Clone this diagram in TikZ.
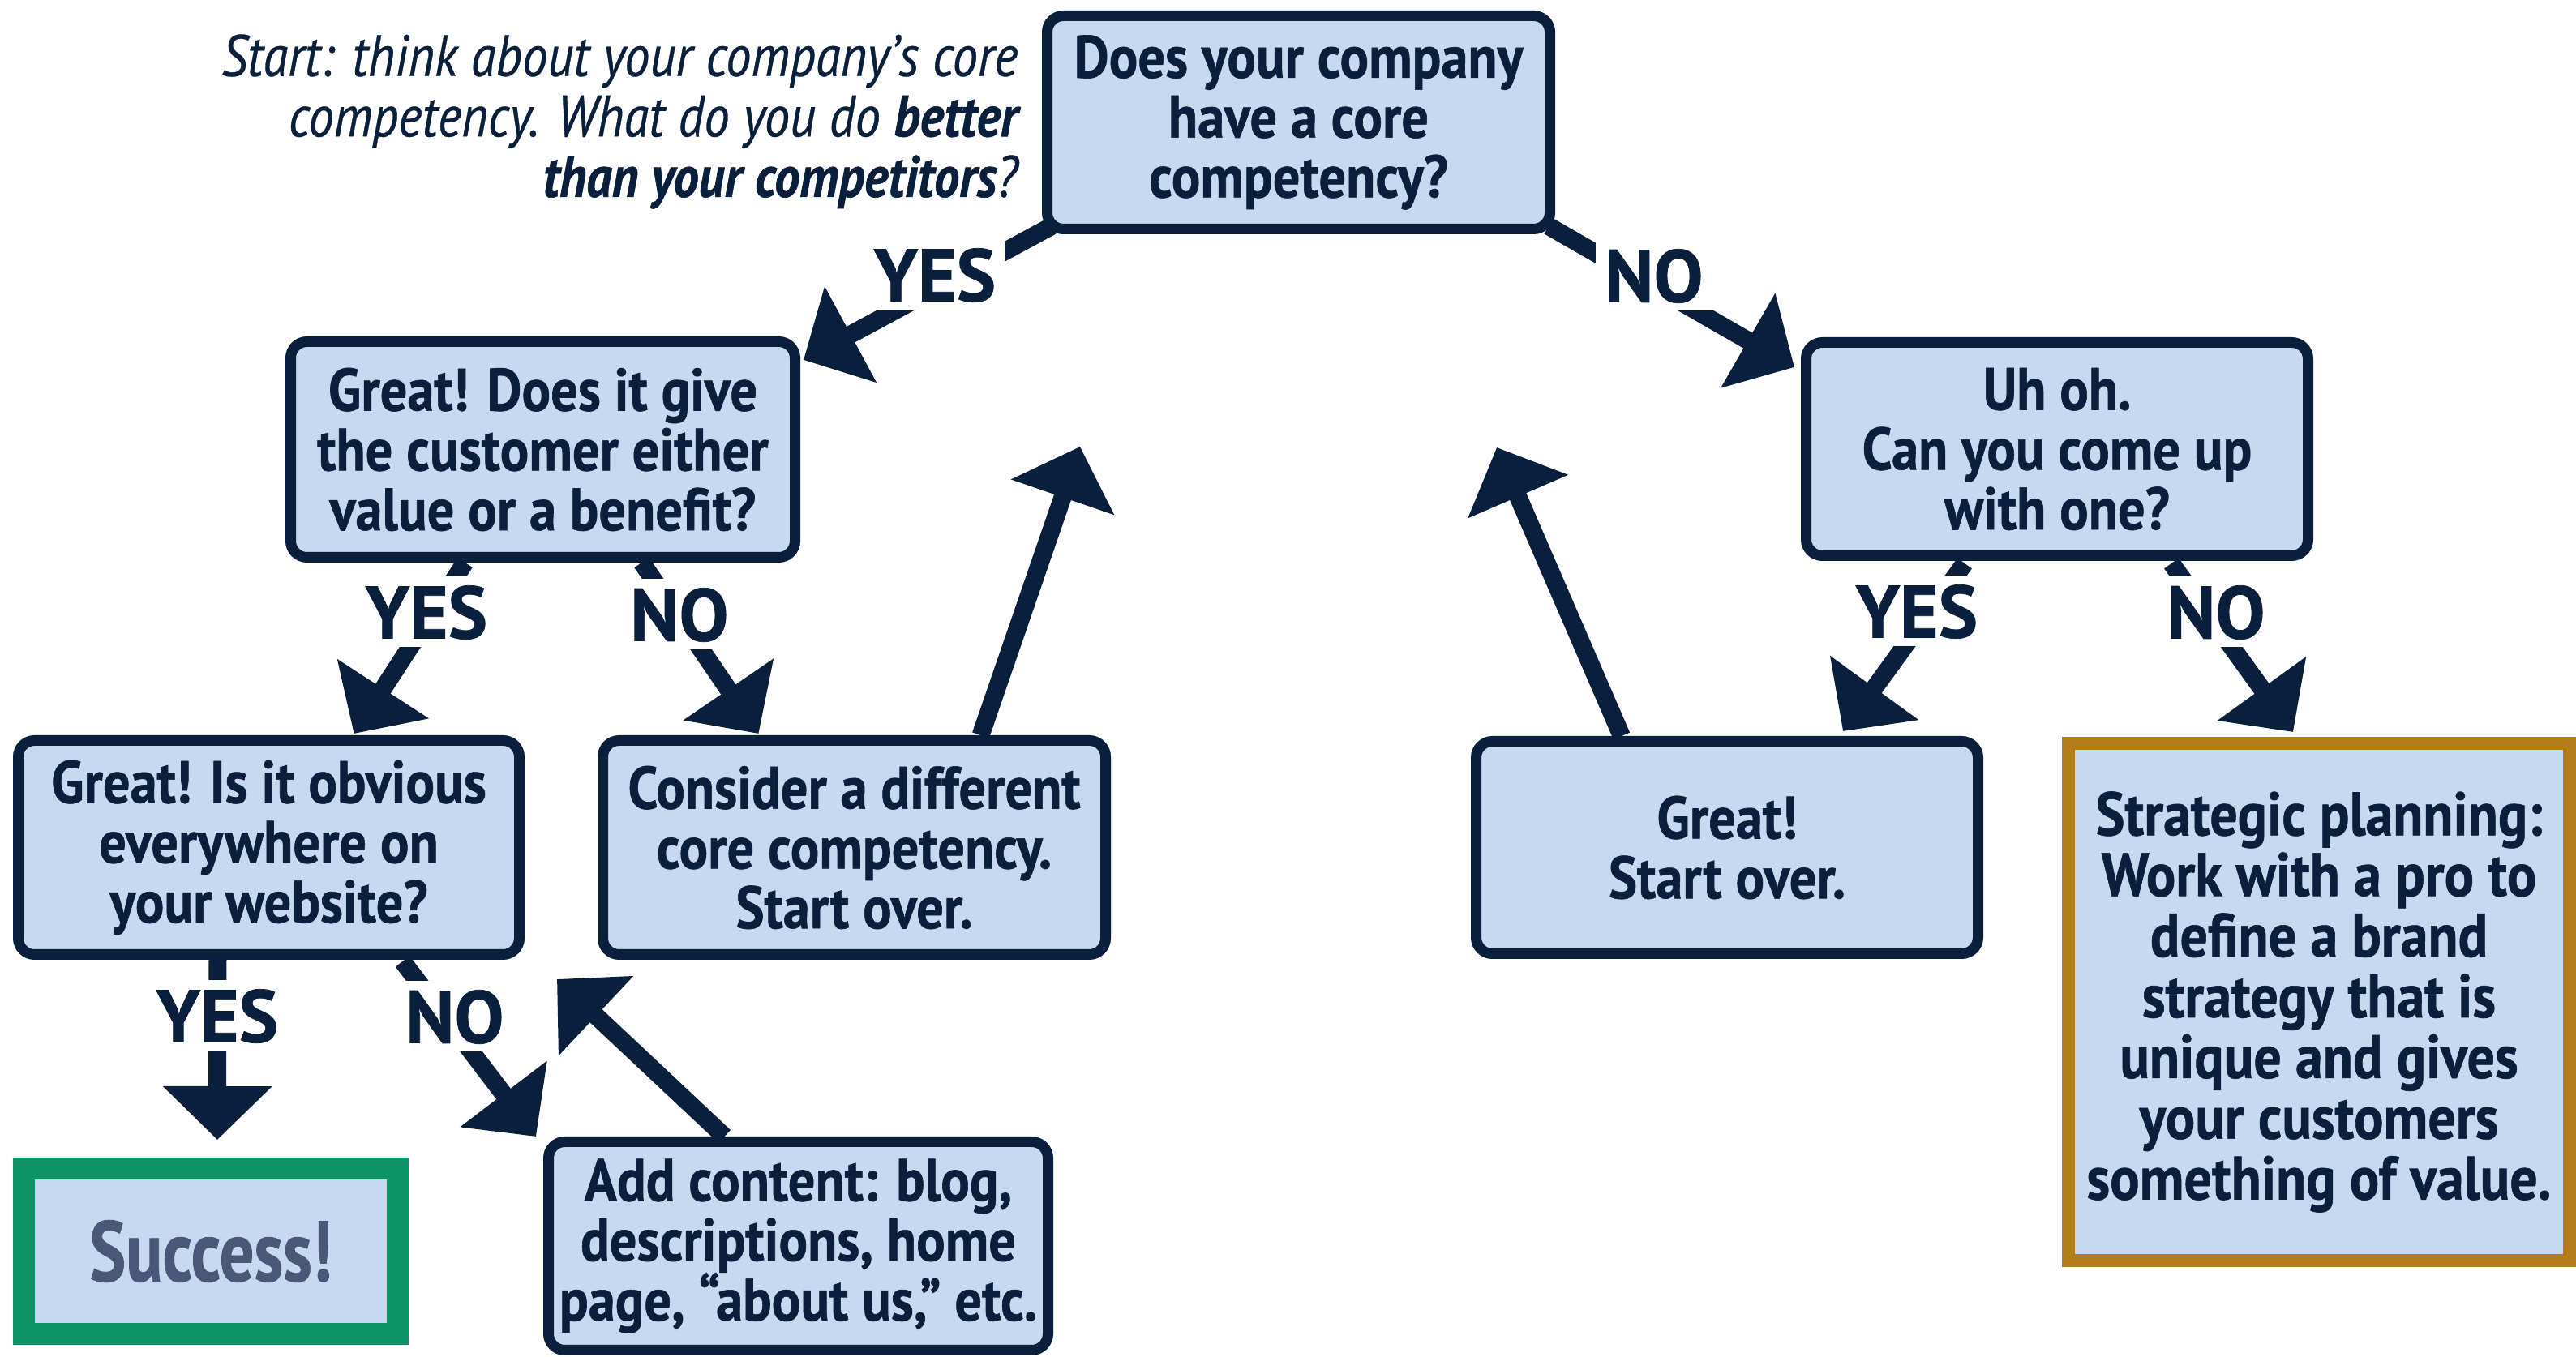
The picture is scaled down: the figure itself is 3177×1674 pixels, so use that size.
\documentclass[tikz,border=0pt]{standalone}
\usepackage{fontspec}
\setmainfont{PT Sans}[FakeStretch=0.9, BoldFeatures={FakeBold=0.8}]
\newfontfamily\introfont{PT Sans}[FakeStretch=0.87, ItalicFeatures={FakeBold=0.45}, BoldItalicFeatures={FakeBold=0.8}]
\newfontfamily\succfont{PT Sans}[FakeStretch=0.8, BoldFeatures={FakeBold=0.8}]
\newfontfamily\lblfont{PT Sans}[BoldFeatures={FakeBold=0.8}]
\usetikzlibrary{arrows.meta,calc}
\definecolor{navy}{HTML}{0A1F3B}
\definecolor{boxfill}{HTML}{C6D9F0}
\definecolor{okgreen}{HTML}{0C9466}
\definecolor{gold}{HTML}{B27D18}
\definecolor{succtext}{HTML}{4A5878}
\pgfdeclarelayer{bg}
\pgfsetlayers{bg,main}
\begin{document}
\begin{tikzpicture}[x=0.1mm,y=-0.1mm,
  box/.style={draw=navy, fill=boxfill, line width=1.3mm, rounded corners=2mm,
    align=center, inner sep=0pt, text=navy,
    font=\fontsize{21}{21}\selectfont\bfseries},
  arr/.style={draw=navy, line width=2.2mm, -{Triangle[length=6.6mm,width=13.1mm]}},
  lbl/.style={fill=white, text=navy, font=\lblfont\fontsize{26}{26}\selectfont\bfseries,
    inner sep=1.1mm, text height=6.5mm, text depth=0pt}]
\useasboundingbox (0,0) rectangle (3177,1674);

% boxes
\node[box, minimum width=62.0mm, minimum height=26.3mm] (top) at (1601.5,151)
  {Does your company\\have a core\\competency?};
\node[box, minimum width=62.2mm, minimum height=26.6mm] (give) at (669.5,554.5)
  {Great! Does it give\\the customer either\\value or a benefit?};
\node[box, minimum width=61.9mm, minimum height=26.3mm] (uhoh) at (2537,554)
  {Uh oh.\\Can you come up\\with one?};
\node[box, minimum width=61.8mm, minimum height=26.4mm] (obvious) at (331.5,1045.5)
  {Great! Is it obvious\\everywhere on\\your website?};
\node[box, minimum width=62.0mm, minimum height=26.4mm] (consider) at (1053.5,1045.5)
  {Consider a different\\core competency.\\Start over.};
\node[box, minimum width=61.9mm, minimum height=26.2mm] (startover) at (2130,1045.5)
  {Great!\\Start over.};
\node[box, minimum width=61.6mm, minimum height=25.7mm] (add) at (984.5,1537)
  {Add content: blog,\\descriptions, home\\page, “about us,” etc.};
\node[box, sharp corners, draw=gold, line width=1.6mm, minimum width=61.8mm, minimum height=63.8mm,
  font=\fontsize{21.5}{21.3}\selectfont\bfseries]
  (strategic) at (2860,1236)
  {Strategic planning:\\Work with a pro to\\define a brand\\strategy that is\\unique and gives\\your customers\\something of value.};
\node[box, sharp corners, draw=okgreen, line width=2.7mm, minimum width=46.1mm, minimum height=20.4mm,
  text=succtext, font=\succfont\fontsize{30}{30}\selectfont\bfseries] (success) at (260,1543.5) {Success!};

% intro text
\node[anchor=east, align=right, text=navy, inner sep=0pt,
  font=\introfont\fontsize{20.5}{21.2}\selectfont\itshape] (intro) at (1256,150)
  {Start: think about your company’s core\\competency. What do you do \textbf{better}\\\textbf{than your competitors}?};

% free ends
\coordinate (loopL) at (1332,551);
\coordinate (loopR) at (1846,552);
\coordinate (loopA) at (687,1208);

% connectors
\begin{pgfonlayer}{bg}
\draw[arr] ($(top.south west)+(12,-10)$) -- ($(give.north east)+(4,29)$);
\draw[arr] ($(top.south east)+(-8,-10)$) -- ($(uhoh.north west)+(-8,37)$);
\draw[arr] ($(give.south)+(-96,0)$) -- ($(obvious.north)+(105,-2)$);
\draw[arr] ($(give.south)+(122,0)$) -- ($(consider.north)+(-118,-2)$);
\draw[arr] ($(consider.north)+(156,0)$) -- (loopL);
\draw[arr] ($(obvious.south)+(-63,0)$) -- ($(success.north)+(8,-22)$);
\draw[arr] ($(obvious.south)+(165,2)$) -- ($(add.north west)+(-9,0)$);
\draw[arr] ($(add.north)+(-91,0)$) -- (loopA);
\draw[arr] ($(startover.north)+(-130,0)$) -- (loopR);
\draw[arr] ($(uhoh.south)+(-114,3)$) -- ($(startover.north)+(143,-6)$);
\draw[arr] ($(uhoh.south)+(141,3)$) -- ($(strategic.north)+(-32,-6)$);
\end{pgfonlayer}

% labels
\node[lbl] (l1) at (1153,339) {YES};
\node[lbl] (l2) at (2040,340) {NO};
\node[lbl] (l3) at (526,755) {YES};
\node[lbl] (l4) at (838,758) {NO};
\node[lbl] (l6) at (268,1253) {YES};
\node[lbl] (l7) at (561,1254) {NO};
\node[lbl] (l10) at (2364,754) {YES};
\node[lbl] (l11) at (2733,755) {NO};
\end{tikzpicture}
\end{document}
